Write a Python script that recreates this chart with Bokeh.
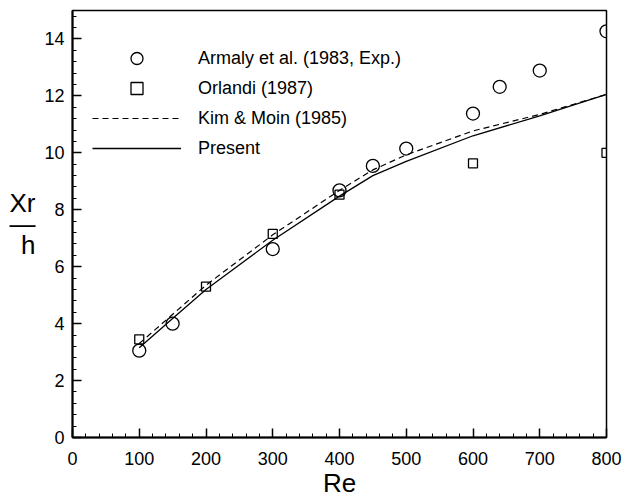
from bokeh.plotting import figure
from bokeh.models import (Range1d, SingleIntervalTicker, Legend, LegendItem)
from bokeh.embed import file_html
from bokeh.resources import INLINE

# Data
re_armaly = [100, 150, 300, 400, 450, 500, 600, 640, 700, 800]
xr_armaly = [3.05, 4.0, 6.62, 8.68, 9.54, 10.15, 11.38, 12.32, 12.89, 14.27]

re_orlandi = [100, 200, 300, 400, 600, 800]
xr_orlandi = [3.45, 5.3, 7.15, 8.53, 9.63, 10.0]

re_kim = [100, 200, 300, 400, 450, 500, 600, 700, 800]
xr_kim = [3.3, 5.35, 7.12, 8.68, 9.4, 9.93, 10.77, 11.35, 12.05]

re_present = [100, 150, 200, 300, 400, 450, 500, 600, 700, 800]
xr_present = [3.15, 4.18, 5.2, 6.93, 8.48, 9.2, 9.7, 10.6, 11.3, 12.05]

ylabel_parts = ["Xr", "\u2014", "h"]

FONT = "Liberation Sans"

p = figure(width=623, height=497, output_backend="svg", toolbar_location=None,
           x_range=Range1d(0, 800), y_range=Range1d(0, 15),
           min_border_left=72, min_border_right=17, min_border_top=10,
           min_border_bottom=60)
p.frame_width = 534
p.frame_height = 427
p.background_fill_color = "white"
p.border_fill_color = "white"
p.grid.visible = False
p.outline_line_color = "black"
p.outline_line_width = 1.5

for ax in (p.xaxis, p.yaxis):
    ax.axis_line_width = 2
    ax.axis_line_color = "black"
    ax.major_tick_in = 9
    ax.major_tick_out = 0
    ax.minor_tick_in = 4
    ax.minor_tick_out = 0
    ax.major_tick_line_width = 1.5
    ax.major_tick_line_color = "black"
    ax.minor_tick_line_color = "black"
    ax.major_label_text_font = FONT
    ax.major_label_text_font_size = "18px"
    ax.major_label_text_color = "black"
    ax.axis_label_text_font = FONT
    ax.axis_label_text_font_size = "26px"
    ax.axis_label_text_font_style = "normal"
    ax.axis_label_text_color = "black"

p.xaxis.ticker = SingleIntervalTicker(interval=100, num_minor_ticks=5)
p.yaxis.ticker = SingleIntervalTicker(interval=2, num_minor_ticks=5)
p.xaxis.major_label_standoff = 14
p.yaxis.major_label_standoff = 8
p.xaxis.axis_label = "Re"
p.xaxis.axis_label_standoff = 0

# y-axis label as a horizontal fraction Xr / h
yax = p.yaxis[0]
yax.axis_label = "\n".join(ylabel_parts)
yax.axis_label_orientation = "horizontal"
yax.axis_label_text_line_height = 0.7
yax.axis_label_standoff = 6

r_present = p.line(re_present, xr_present, line_color="black", line_width=1.3)
r_kim = p.line(re_kim, xr_kim, line_color="black", line_width=1.2, line_dash="6 4")
r_armaly = p.scatter(re_armaly, xr_armaly, marker="circle", size=13,
                     fill_color=None, line_color="black", line_width=1.3)
r_orlandi = p.scatter(re_orlandi, xr_orlandi, marker="square", size=9,
                      fill_color=None, line_color="black", line_width=1.3)

legend = Legend(items=[
    LegendItem(label="Armaly et al. (1983, Exp.)", renderers=[r_armaly]),
    LegendItem(label="Orlandi (1987)", renderers=[r_orlandi]),
    LegendItem(label="Kim & Moin (1985)", renderers=[r_kim]),
    LegendItem(label="Present", renderers=[r_present]),
], location=(20, 274), padding=0, margin=0, spacing=0,
    glyph_width=89, glyph_height=30, label_height=30, label_standoff=17,
    border_line_color=None, background_fill_alpha=0,
    label_text_font=FONT, label_text_font_size="18px", label_text_color="black")
p.add_layout(legend, "center")

open("out.html", "w").write(file_html(p, INLINE))
